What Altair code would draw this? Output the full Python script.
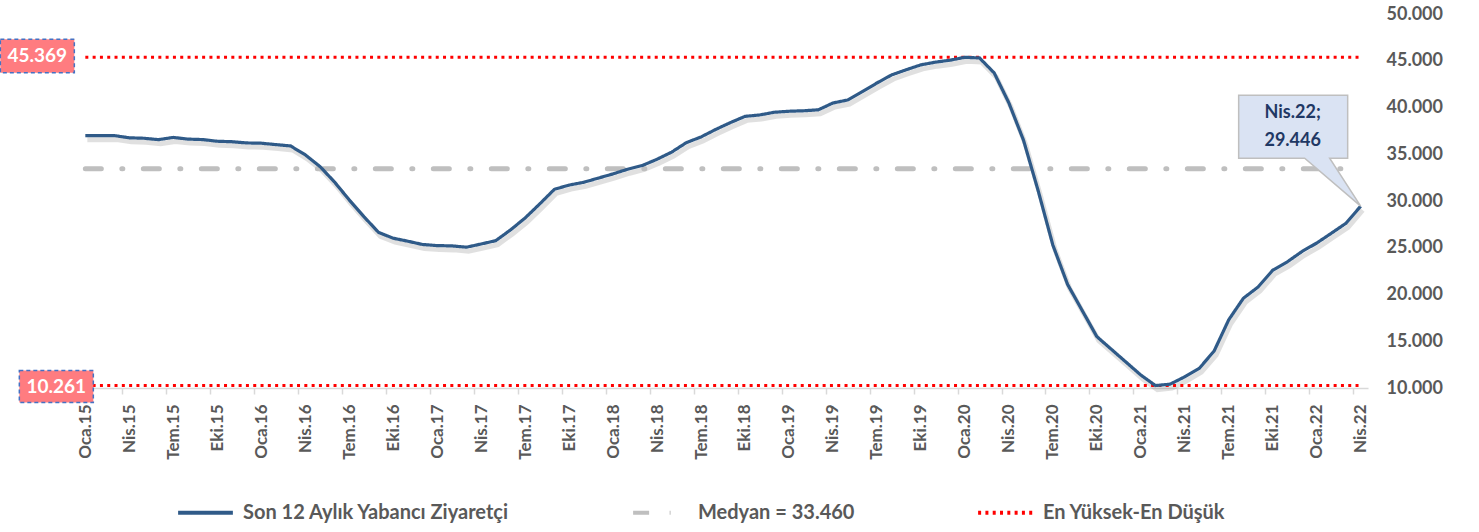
import altair as alt
import pandas as pd

month_names = ["Oca", "Şub", "Mar", "Nis", "May", "Haz", "Tem", "Ağu", "Eyl", "Eki", "Kas", "Ara"]
years = ["15", "16", "17", "18", "19", "20", "21", "22"]
labels = [f"{m}.{y}" for y in years for m in month_names][:88]
tick_labels = [l for l in labels if l.split(".")[0] in ("Oca", "Nis", "Tem", "Eki")]

values = [
    36990, 36990, 36990, 36760, 36710, 36560, 36800, 36620, 36570, 36390, 36340, 36210,
    36180, 36030, 35890, 34940, 33700, 32030, 30120, 28330, 26650, 26020, 25700, 25350,
    25230, 25200, 25060, 25400, 25760, 26900, 28180, 29690, 31250, 31700, 32000, 32450,
    32900, 33400, 33800, 34460, 35230, 36240, 36850, 37650, 38380, 39050, 39200, 39490,
    39600, 39650, 39750, 40480, 40800, 41690, 42620, 43480, 44040, 44560, 44850, 45060,
    45369, 45300, 43700, 40500, 36500, 31100, 25300, 21100, 18300, 15500, 14130, 12760,
    11390, 10261, 10410, 11200, 12120, 13950, 17300, 19600, 20800, 22600, 23500, 24600,
    25500, 26550, 27620, 29446,
]
median_value = [33460]
extreme_values = [45369, 10261]
y_ticks = [10000, 15000, 20000, 25000, 30000, 35000, 40000, 45000, 50000]

series_names = ["Son 12 Aylık Yabancı Ziyaretçi", "Medyan = 33.460", "En Yüksek-En Düşük"]
series_colors = ["#2F5A88", "#BFBFBF", "#FF0000"]
series_dashes = [[1, 0], [16, 20.5, 1, 20.5], [3, 4.3]]


def tr_fmt(v):
    return f"{v:,}".replace(",", ".")


FONT = "Lato"
GRAY = "#595959"

df = pd.DataFrame({"month": labels, "value": values, "series": series_names[0]})
df_med = pd.DataFrame({"month": [labels[0]], "month2": [labels[-1]], "value": median_value,
                       "series": series_names[1]})
df_ext = pd.DataFrame({"month": [labels[0]] * 2, "month2": [labels[-1]] * 2,
                       "value": extreme_values, "series": series_names[2],
                       "txt": [tr_fmt(v) for v in extreme_values]})
df_last = pd.DataFrame({"month": [labels[-1]], "value": [values[-1]],
                        "txt": [f"{labels[-1]};\n{tr_fmt(values[-1])}"]})

x_scale = alt.Scale(type="point", padding=0.5, domain=labels)
x_enc = alt.X("month:O", sort=labels, scale=x_scale, title=None,
              axis=alt.Axis(values=tick_labels, labelAngle=-90, labelFont=FONT,
                            labelFontWeight="bold", labelFontSize=17, labelColor=GRAY,
                            domainColor="#D9D9D9", domainWidth=1.5, tickColor="#D9D9D9",
                            tickWidth=1.5, tickSize=6, tickOffset=-7.33, labelOffset=7.33,
                            labelPadding=10, grid=False, labelOverlap=False))
y_scale = alt.Scale(domain=[10000, 50000], nice=False, zero=False)
y_enc = alt.Y("value:Q", scale=y_scale, title=None,
              axis=alt.Axis(orient="right", values=y_ticks, domain=False, ticks=False,
                            grid=False, labelFont=FONT, labelFontWeight="bold",
                            labelFontSize=18, labelColor=GRAY, labelPadding=18,
                            labelExpr="replace(format(datum.value, ',d'), ',', '.')"))

legend = alt.Legend(orient="none", legendX=98, legendY=469, direction="horizontal",
                    columns=3, title=None, symbolType="stroke", symbolSize=3000,
                    symbolStrokeWidth=4, labelFont=FONT, labelFontWeight="bold",
                    labelFontSize=20, labelColor=GRAY, columnPadding=115, labelLimit=0,
                    labelOffset=8)
color_enc = alt.Color("series:N", scale=alt.Scale(domain=series_names, range=series_colors),
                      legend=legend)
dash_enc = alt.StrokeDash("series:N", scale=alt.Scale(domain=series_names, range=series_dashes),
                          legend=legend)

shadow = alt.Chart(df).mark_line(color="#000000", opacity=0.12, strokeWidth=5,
                                 xOffset=2, yOffset=4).encode(x=x_enc, y=y_enc)

median_rule = alt.Chart(df_med).mark_rule(strokeWidth=5, strokeCap="round").encode(
    x=x_enc, x2="month2", y=y_enc, color=color_enc, strokeDash=dash_enc)

ext_rule = alt.Chart(df_ext).mark_rule(strokeWidth=3).encode(
    x=x_enc, x2="month2", y=y_enc, color=color_enc, strokeDash=dash_enc)

main_line = alt.Chart(df).mark_line(strokeWidth=3.2).encode(
    x=x_enc, y=y_enc, color=color_enc, strokeDash=dash_enc)

box_style = dict(filled=True, fill="#FF7C80", stroke="#4472C4", strokeWidth=1.5,
                 strokeDash=[4, 3], opacity=1, size=40000)
max_box = alt.Chart(df_ext.iloc[[0]]).mark_point(
    shape="M-0.85,-0.18 L-0.11,-0.18 L-0.11,0.155 L-0.85,0.155 Z", **box_style
).encode(x=x_enc, y=y_enc)
min_box = alt.Chart(df_ext.iloc[[1]]).mark_point(
    shape="M-0.66,-0.15 L0.08,-0.15 L0.08,0.17 L-0.66,0.17 Z", **box_style
).encode(x=x_enc, y=y_enc)
max_txt = alt.Chart(df_ext.iloc[[0]]).mark_text(
    font=FONT, fontWeight="bold", fontSize=19, color="white", dx=-48, dy=-1,
    align="center", baseline="middle").encode(x=x_enc, y=y_enc, text="txt:N")
min_txt = alt.Chart(df_ext.iloc[[1]]).mark_text(
    font=FONT, fontWeight="bold", fontSize=19, color="white", dx=-29, dy=1,
    align="center", baseline="middle").encode(x=x_enc, y=y_enc, text="txt:N")

callout = alt.Chart(df_last).mark_point(
    shape="M0,0 L-0.31,-0.48 L-0.13,-0.48 L-0.13,-1.11 L-1.22,-1.11 L-1.22,-0.48 L-0.56,-0.48 Z",
    filled=True, fill="#DAE3F3", stroke="#BFBFBF", strokeWidth=1.5, opacity=1, size=40000
).encode(x=x_enc, y=y_enc)
callout_txt = alt.Chart(df_last).mark_text(
    font=FONT, fontWeight="bold", fontSize=18, color="#1F3864", dx=-68, dy=-93,
    align="center", baseline="middle", lineBreak="\n", lineHeight=28
).encode(x=x_enc, y=y_enc, text="txt:N")

chart = alt.layer(
    shadow, median_rule, ext_rule, main_line, max_box, min_box, max_txt, min_txt,
    callout, callout_txt
).properties(
    width=1290, height=374,
    padding={"left": 78, "top": 14, "right": 111, "bottom": 144},
    autosize=alt.AutoSizeParams(type="none"),
    background="white",
).configure_view(stroke=None)

chart.save("out.html", embed_options={"renderer": "svg", "actions": False})
